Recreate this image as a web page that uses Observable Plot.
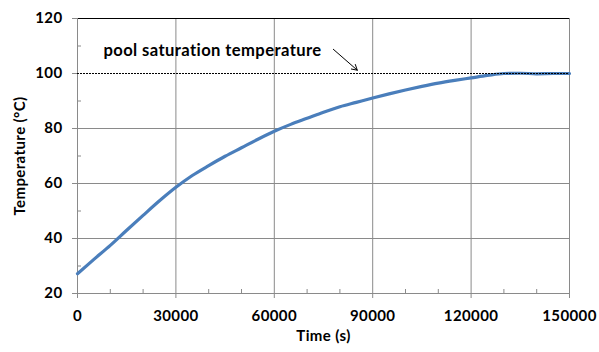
<!DOCTYPE html>
<html>
<head>
<meta charset="utf-8">
<script src="https://cdn.jsdelivr.net/npm/d3@7"></script>
<script src="https://cdn.jsdelivr.net/npm/@observablehq/plot@0.6"></script>
<style>
  html, body { margin: 0; padding: 0; background: #fff; }
  svg text { letter-spacing: 0.4px; }
</style>
</head>
<body>
<div id="chart"></div>
<script>
// time (s)
const times = [0, 5000, 10000, 15000, 20000, 25000, 30000, 35000, 40000, 45000, 50000,
  55000, 60000, 65000, 70000, 75000, 80000, 85000, 90000, 95000, 100000,
  105000, 110000, 115000, 120000, 125000, 130000, 135000, 140000, 145000, 150000];
// temperature (°C)
const temps = [27.2, 32.4, 37.5, 43.0, 48.4, 53.7, 58.6, 62.9, 66.5, 69.9, 73.0,
  76.1, 79.0, 81.5, 83.7, 85.9, 87.9, 89.5, 91.1, 92.6, 94.0,
  95.3, 96.5, 97.5, 98.4, 99.3, 100.0, 100.1, 99.9, 100.0, 100.0];

const xTicks = [0, 30000, 60000, 90000, 120000, 150000];
const xMinor = [10000, 20000, 40000, 50000, 70000, 80000, 100000, 110000, 130000, 140000];
const yTicks = [20, 40, 60, 80, 100, 120];
const yMinor = [30, 50, 70, 90, 110];
const saturation = 100;
const annotationText = "pool saturation temperature";
const annotationPos = {x: 7900, y: 108.4};
const arrowPos = {x1: 78000, y1: 108.8, x2: 85300, y2: 101.2};
const yTitle = "Temperature (°C)";
const xTitle = "Time (s)";

const data = times.map((t, i) => ({t, T: temps[i]}));
const gray = "#8a8a8a";
const font = "Lato, 'Open Sans', sans-serif";

const chart = Plot.plot({
  width: 599,
  height: 352,
  marginLeft: 77,
  marginRight: 30,
  marginTop: 18,
  marginBottom: 59,
  style: {fontFamily: font, background: "#fff", color: "#000"},
  x: {domain: [0, 150000]},
  y: {domain: [20, 120]},
  marks: [
    Plot.gridX(xTicks.slice(1), {stroke: gray, strokeOpacity: 1, strokeWidth: 1}),
    Plot.gridY([40, 60, 80], {stroke: gray, strokeOpacity: 1, strokeWidth: 1}),
    Plot.ruleY([120], {stroke: "#000", strokeWidth: 1}),
    Plot.ruleX([0], {stroke: gray, strokeWidth: 1}),
    Plot.ruleY([20], {stroke: gray, strokeWidth: 1}),
    Plot.line(data, {x: "t", y: "T", stroke: "#4a7ebb", strokeWidth: 3.2, curve: "monotone-x"}),
    Plot.ruleY([saturation], {stroke: "#000", strokeWidth: 1, strokeDasharray: "2,1"}),
    Plot.axisX(xTicks, {tickSize: 5, tickPadding: 12, stroke: gray, fill: "#000",
      fontSize: 15, fontWeight: "bold", label: null, tickFormat: d => String(d)}),
    Plot.axisX(xMinor, {tickSize: -4, stroke: gray, text: null, label: null}),
    Plot.axisY(yTicks, {tickSize: 5, tickPadding: 10, stroke: gray, fill: "#000",
      fontSize: 15, fontWeight: "bold", label: null}),
    Plot.axisY(yMinor, {tickSize: -4, stroke: gray, text: null, label: null}),
    Plot.text([annotationText], {x: () => annotationPos.x, y: () => annotationPos.y, textAnchor: "start",
      fontSize: 16.6, fontWeight: "bold", fill: "#000"}),
    Plot.arrow([arrowPos], {x1: "x1", y1: "y1", x2: "x2", y2: "y2", stroke: "#000",
      strokeWidth: 1, headLength: 9, bend: 0}),
    Plot.text([yTitle], {x: () => 0, y: () => 70, rotate: -90, dx: -57,
      fontSize: 15, fontWeight: "bold", fill: "#000"}),
    Plot.text([xTitle], {frameAnchor: "bottom", dy: 47,
      fontSize: 15, fontWeight: "bold", fill: "#000"})
  ]
});
document.getElementById("chart").appendChild(chart);
</script>
</body>
</html>
